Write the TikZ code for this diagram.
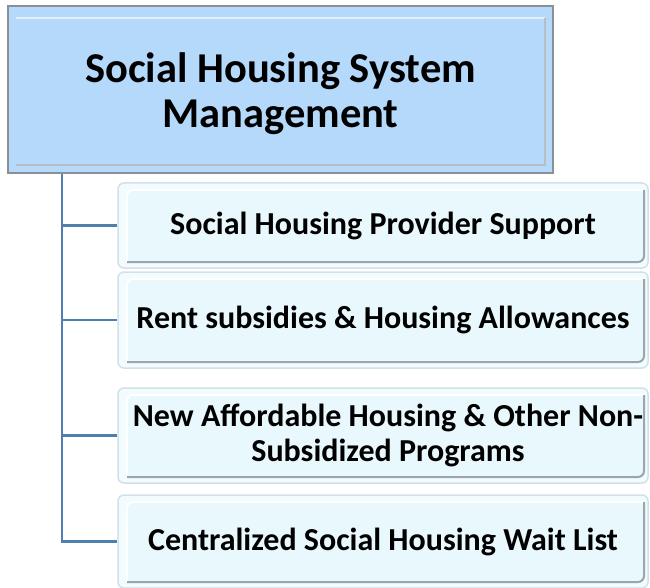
\documentclass[tikz,border=0pt]{standalone}
\usepackage{fontspec}
\setmainfont{Carlito}
\usepackage{tikz}
\usetikzlibrary{positioning}

\definecolor{headfill}{HTML}{B5D9FA}
\definecolor{headline}{HTML}{8A9096}
\definecolor{itemfill}{HTML}{E9F8FC}
\definecolor{itemframe}{HTML}{D3E0E8}
\definecolor{itemedge}{HTML}{9AA6AE}
\definecolor{linkblue}{HTML}{4F7FAF}

\newcommand{\headtext}[1]{\raisebox{-7pt}[\height][\depth]{\begin{tabular}{@{}c@{}}#1\end{tabular}}}

\tikzstyle{head} = [draw=headline, line width=2pt, fill=headfill, minimum width=545pt, minimum height=167pt,
    text centered, font=\fontsize{42.5}{45}\selectfont\bfseries,
    path picture={\draw[white!60!headfill, line width=2.5pt]
        ([shift={(8pt,-12pt)}]path picture bounding box.north west) -- ([shift={(-8pt,-12pt)}]path picture bounding box.north east);
        \draw[headline!60, line width=1.5pt]
        ([shift={(-8pt,-12pt)}]path picture bounding box.north east) -- ([shift={(-8pt,8pt)}]path picture bounding box.south east)
        -- ([shift={(8pt,8pt)}]path picture bounding box.south west);}]
\tikzstyle{item} = [draw=itemframe, line width=1.5pt, rounded corners=6pt, fill=white!40!itemfill,
    minimum width=530pt, text centered, align=center, font=\fontsize{32}{35}\selectfont\bfseries,
    path picture={\fill[itemfill]
        ([shift={(9pt,-7pt)}]path picture bounding box.north west) rectangle ([shift={(-4pt,6pt)}]path picture bounding box.south east);
        \draw[white, line width=2pt]
        ([shift={(9pt,6pt)}]path picture bounding box.south west) -- ([shift={(9pt,-7pt)}]path picture bounding box.north west)
        -- ([shift={(-4pt,-7pt)}]path picture bounding box.north east);
        \draw[itemedge, line width=2pt]
        ([shift={(-4pt,-7pt)}]path picture bounding box.north east) -- ([shift={(-4pt,6pt)}]path picture bounding box.south east)
        -- ([shift={(9pt,6pt)}]path picture bounding box.south west);}]
\tikzstyle{link} = [draw=linkblue, line width=2.5pt]

\begin{document}
\begin{tikzpicture}[x=1pt, y=-1pt]
    \useasboundingbox (0,0) rectangle (650,588);

    \node[head] (main) at (280.5,89.5) {\headtext{Social Housing System\\Management}};

    \node[item, minimum height=85pt] (provider) at (383,225.5) {Social Housing Provider Support};
    \node[item, minimum height=96pt] (rent) at (383,320) {Rent subsidies \& Housing Allowances};
    \node[item, minimum height=95pt] (afford) at (383,435.5) {\hspace*{10pt}New Affordable Housing \& Other Non-\\\hspace*{10pt}Subsidized Programs};
    \node[item, minimum height=93pt] (wait) at (383,541.5) {Centralized Social Housing Wait List};

    \coordinate (trunk) at ([xshift=55pt]main.south west);

    \draw[link] (trunk) |- (wait.west);
    \foreach \n in {provider, rent, afford}
        \draw[link] (trunk |- \n.west) -- (\n.west);
\end{tikzpicture}
\end{document}
